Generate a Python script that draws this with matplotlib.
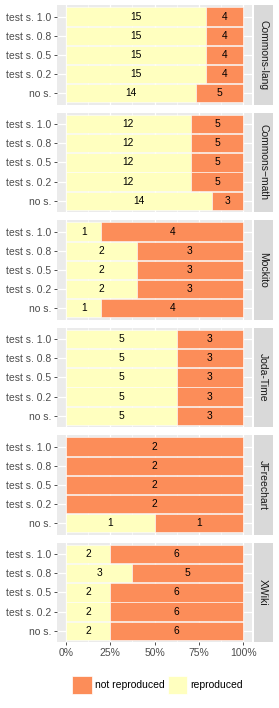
import numpy as np
import matplotlib
matplotlib.use("Agg")
import matplotlib.pyplot as plt
from matplotlib.patches import Patch

plt.rcParams["font.family"] = ["Liberation Sans", "DejaVu Sans"]

projects = ["Commons-lang", "Commons\u2212math", "Mockito", "Joda-Time", "JFreechart", "XWiki"]
settings = ["test s. 1.0", "test s. 0.8", "test s. 0.5", "test s. 0.2", "no s."]

# reproduced / not reproduced counts, per project, in the order of `settings`
reproduced = [
    [15, 15, 15, 15, 14],
    [12, 12, 12, 12, 14],
    [1, 2, 2, 2, 1],
    [5, 5, 5, 5, 5],
    [0, 0, 0, 0, 1],
    [2, 3, 2, 2, 2],
]
not_reproduced = [
    [4, 4, 4, 4, 5],
    [5, 5, 5, 5, 3],
    [4, 3, 3, 3, 4],
    [3, 3, 3, 3, 3],
    [2, 2, 2, 2, 1],
    [6, 5, 6, 6, 6],
]

COL_REP = "#FFFFBF"
COL_NOT = "#FC8D59"
PANEL_BG = "#EBEBEB"
STRIP_BG = "#D9D9D9"
FS = 7.5
FS_BAR = 7.4

W, H = 279, 708
fig = plt.figure(figsize=(W / 100, H / 100), dpi=100)


def px_axes(x0, y0, x1, y1):
    return fig.add_axes([x0 / W, 1 - y1 / H, (x1 - x0) / W, (y1 - y0) / H])


top, panel_h, gap = 5, 99.8, 7.7
px_left, px_right = 57, 252
strip_left, strip_right = 253.5, 273

for i, proj in enumerate(projects):
    y0 = top + i * (panel_h + gap)
    y1 = y0 + panel_h
    ax = px_axes(px_left, y0, px_right, y1)
    ax.set_facecolor(PANEL_BG)
    for s in ax.spines.values():
        s.set_visible(False)

    rep = np.array(reproduced[i], dtype=float)
    nrep = np.array(not_reproduced[i], dtype=float)
    tot = rep + nrep
    fr = rep / tot
    fn = nrep / tot
    ypos = np.arange(len(settings))[::-1]

    ax.set_xlim(-0.05, 1.05)
    ax.set_ylim(-0.6, len(settings) - 0.4)
    ax.set_xticks([0, 0.25, 0.5, 0.75, 1.0])
    ax.set_xticks([0.125, 0.375, 0.625, 0.875], minor=True)
    ax.set_yticks(ypos)
    ax.set_yticklabels(settings)
    ax.grid(True, which="major", color="white", linewidth=0.9)
    ax.grid(True, which="minor", axis="x", color="white", linewidth=0.45)
    ax.set_axisbelow(True)

    ax.barh(ypos, fr, left=0, height=0.95, color=COL_REP, edgecolor="white", linewidth=0.4)
    ax.barh(ypos, fn, left=fr, height=0.95, color=COL_NOT, edgecolor="white", linewidth=0.4)
    for y, a, b, ra, rb in zip(ypos, fr, fn, rep, nrep):
        if ra > 0:
            ax.text(a / 2, y, f"{int(ra)}", ha="center", va="center", fontsize=FS_BAR, color="black")
        if rb > 0:
            ax.text(a + b / 2, y, f"{int(rb)}", ha="center", va="center", fontsize=FS_BAR, color="black")

    ax.tick_params(axis="y", which="major", length=2.5, width=0.6, color="#333333",
                   labelsize=FS, labelcolor="#4D4D4D", pad=1.5)
    ax.tick_params(axis="x", which="minor", length=0)
    if i == len(projects) - 1:
        ax.set_xticklabels(["0%", "25%", "50%", "75%", "100%"])
        ax.tick_params(axis="x", which="major", length=2.5, width=0.6, color="#333333",
                       labelsize=FS, labelcolor="#4D4D4D", pad=1.5)
    else:
        ax.tick_params(axis="x", which="major", length=0, labelbottom=False)

    sx = px_axes(strip_left, y0, strip_right, y1)
    sx.set_facecolor(STRIP_BG)
    sx.set_xticks([])
    sx.set_yticks([])
    for s in sx.spines.values():
        s.set_visible(False)
    sx.text(0.5, 0.5, proj, rotation=-90, ha="center", va="center",
            fontsize=FS, color="#1A1A1A", transform=sx.transAxes)

handles = [Patch(facecolor=COL_NOT, edgecolor="white", linewidth=0.5),
           Patch(facecolor=COL_REP, edgecolor="white", linewidth=0.5)]
fig.legend(handles, ["not reproduced", "reproduced"], loc="center",
           bbox_to_anchor=(0.565, 1 - 685 / H), ncol=2, frameon=False,
           fontsize=FS, handlelength=1.85, handleheight=2.3,
           handletextpad=0.3, columnspacing=0.3, borderpad=0)

fig.savefig("out.png", dpi=100)
